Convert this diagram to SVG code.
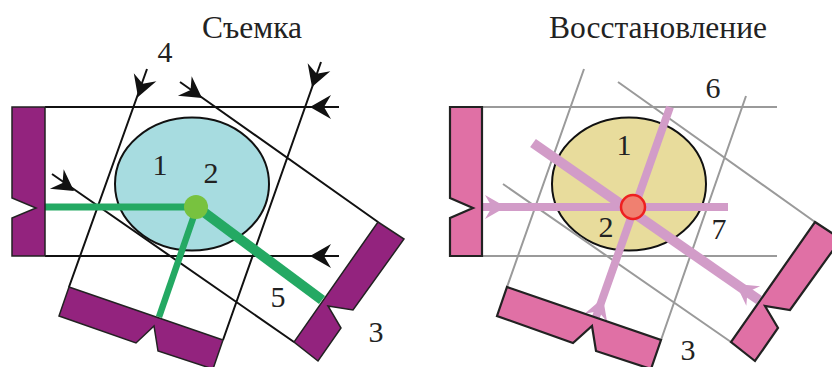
<svg xmlns="http://www.w3.org/2000/svg" width="832" height="367" viewBox="0 0 832 367">
<style>
.t{font-family:"Liberation Serif","Times New Roman",serif;font-size:30px;fill:#222;text-anchor:middle}
.h{font-size:31.5px}
.p1{fill:#93237e;stroke:#222;stroke-width:1.5;stroke-linejoin:miter}
.p2{fill:#e070a5;stroke:#222;stroke-width:2.2;stroke-linejoin:miter}
.l1{stroke:#111;stroke-width:2;fill:none}
.l2{stroke:#9a9a9a;stroke-width:2;fill:none}
.g{stroke:#24a963;fill:none}
.m{stroke:#d29cc8;fill:none}
.ah{fill:#111}
.ahp{fill:#d29cc8}
</style>
<defs>
<path id="a" d="M0,0L-21,-12L-14,0L-21,12Z"/>
</defs>
<rect width="832" height="367" fill="#fff"/>
<text class="t h" x="252" y="38">Съемка</text>
<text class="t h" x="658" y="38">Восстановление</text>
<g id="object-left"><ellipse cx="192" cy="184" rx="77" ry="66.5" fill="#a7dce0" stroke="#111" stroke-width="2"/></g>
<g id="object-right"><ellipse cx="629" cy="184" rx="77" ry="66.5" fill="#e8dc9c" stroke="#111" stroke-width="2"/></g>
<g id="connectors">
<path class="l1" d="M45,107H339M45,256H339M69,287L147,69M223,340L321,62M180,82L378,222M52,174L294,342"/>
<path class="l2" d="M482,107H777M482,256H777M507,287L584,69M661,340L746,96M618,82L815,222M503,184L731,342"/>
<path class="g" stroke-width="7" d="M45,207H197"/>
<path class="g" stroke-width="6.5" d="M159,317L197,207"/>
<path class="g" stroke-width="10" d="M197,207L322,300"/>
<path class="m" stroke-width="8" d="M482,207H728"/>
<path class="m" stroke-width="8" d="M670,107L596,317"/>
<path class="m" stroke-width="10" d="M533,143L759,300"/>
<use href="#a" class="ah" transform="translate(310,107) rotate(180)"/>
<use href="#a" class="ah" transform="translate(310,256) rotate(180)"/>
<use href="#a" class="ah" transform="translate(138,97) rotate(109.7)"/>
<use href="#a" class="ah" transform="translate(312,87) rotate(109.4)"/>
<use href="#a" class="ah" transform="translate(202,98) rotate(35)"/>
<use href="#a" class="ah" transform="translate(74,191) rotate(35)"/>
<use href="#a" class="ahp" transform="translate(506,207)"/>
<use href="#a" class="ahp" transform="translate(603,298) rotate(-70)"/>
<use href="#a" class="ahp" transform="translate(736,284) rotate(215)"/>
</g>
<g id="source-left"><path class="p1" d="M12,107H45V256H12V218L36,208L12,198Z"/></g>
<g id="detector-bottom-left"><path class="p1" d="M69,287L223,340L213,369L158,351L154,326L136,343L59,316Z"/></g>
<g id="detector-right-left"><path class="p1" d="M378,222L404,239L353,310L328,306L341,328L318,361L294,342Z"/></g>
<g id="source-right"><path class="p2" d="M450,107H482V256H450V218L473,208L450,198Z"/></g>
<g id="detector-bottom-right"><path class="p2" d="M507,287L661,340L651,369L596,351L592,326L573,343L497,316Z"/></g>
<g id="detector-right-right"><path class="p2" d="M815,222L841,239L790,310L765,306L778,328L755,361L731,342Z"/></g>
<g id="point-left"><circle cx="196" cy="207" r="12" fill="#78c23f"/></g>
<g id="point-right"><circle cx="633" cy="207" r="12" fill="#f08070" stroke="#ee2020" stroke-width="2.5"/></g>
<g id="labels">
<text class="t" x="165" y="62">4</text>
<text class="t" x="160" y="175">1</text>
<text class="t" x="211" y="183">2</text>
<text class="t" x="278" y="307">5</text>
<text class="t" x="376" y="342">3</text>
<text class="t" x="713" y="98">6</text>
<text class="t" x="624" y="155">1</text>
<text class="t" x="606" y="237">2</text>
<text class="t" x="719" y="239">7</text>
<text class="t" x="688" y="360">3</text>
</g>
</svg>
